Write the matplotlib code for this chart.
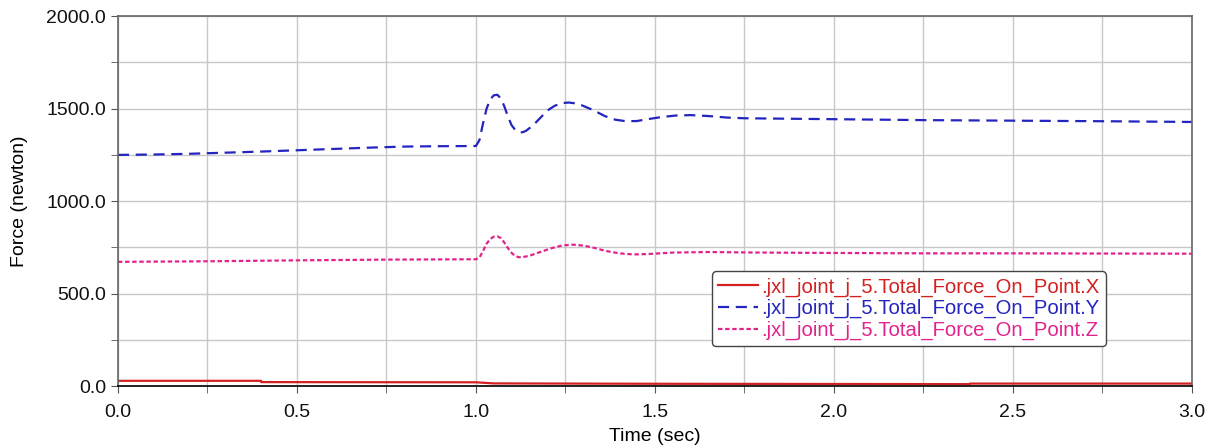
import matplotlib
matplotlib.use("Agg")
import matplotlib.pyplot as plt
from matplotlib.ticker import MultipleLocator, FormatStrFormatter

plt.rcParams['font.family'] = ['Liberation Sans', 'DejaVu Sans']

# Time samples (sec) and force values (newton) for each component
t_x = [0.0, 0.40, 0.40, 1.00, 1.05, 1.50, 2.38, 2.38, 3.0]
f_x = [29, 29, 22, 21, 15, 13, 11, 14, 14]

t_y = [0.0, 0.1, 0.2, 0.3, 0.4, 0.5, 0.6, 0.7, 0.8, 0.9, 1.0,
       1.01, 1.02, 1.03, 1.04, 1.05, 1.06, 1.07, 1.08, 1.09, 1.10,
       1.11, 1.12, 1.13, 1.14, 1.16, 1.18, 1.20, 1.22, 1.24, 1.26,
       1.28, 1.30, 1.33, 1.36, 1.39, 1.42, 1.45, 1.48, 1.52, 1.56,
       1.60, 1.65, 1.70, 1.75, 1.80, 2.0, 2.25, 2.5, 2.75, 3.0]
f_y = [1250, 1252, 1256, 1262, 1268, 1275, 1282, 1289, 1295, 1297, 1298,
       1330, 1420, 1500, 1550, 1572, 1575, 1555, 1510, 1455, 1410,
       1385, 1373, 1372, 1380, 1410, 1450, 1490, 1515, 1530, 1533,
       1528, 1515, 1490, 1460, 1440, 1432, 1433, 1443, 1455, 1463,
       1465, 1460, 1452, 1448, 1447, 1443, 1438, 1435, 1432, 1428]

t_z = [0.0, 0.25, 0.5, 0.75, 1.0, 1.01, 1.02, 1.03, 1.04, 1.05, 1.06,
       1.07, 1.08, 1.09, 1.10, 1.11, 1.12, 1.13, 1.15, 1.18, 1.21,
       1.24, 1.27, 1.30, 1.33, 1.36, 1.40, 1.44, 1.48, 1.55, 1.65,
       1.80, 2.0, 2.25, 2.5, 3.0]
f_z = [672, 675, 680, 684, 686, 695, 730, 770, 795, 808, 810,
       800, 775, 745, 720, 703, 697, 697, 705, 725, 745,
       760, 765, 760, 748, 732, 718, 712, 714, 722, 725,
       722, 720, 718, 718, 716]

labels = [".jxl_joint_j_5.Total_Force_On_Point.X",
          ".jxl_joint_j_5.Total_Force_On_Point.Y",
          ".jxl_joint_j_5.Total_Force_On_Point.Z"]
colors = ["#d42020", "#2424c0", "#e0248c"]

fig = plt.figure(figsize=(12.16, 4.48), dpi=100)
ax = fig.add_axes([0.097, 0.138, 0.883, 0.826])

ax.plot(t_x, f_x, color=colors[0], lw=1.6, label=labels[0])
ax.plot(t_y, f_y, color=colors[1], lw=1.6, ls=(0, (5, 3)), label=labels[1])
ax.plot(t_z, f_z, color=colors[2], lw=1.6, ls=(0, (2, 1.2)), label=labels[2])

ax.set_xlim(0, 3.0)
ax.set_ylim(0, 2000)
ax.xaxis.set_major_locator(MultipleLocator(0.5))
ax.xaxis.set_minor_locator(MultipleLocator(0.25))
ax.yaxis.set_major_locator(MultipleLocator(500))
ax.yaxis.set_minor_locator(MultipleLocator(250))
ax.xaxis.set_major_formatter(FormatStrFormatter('%.1f'))
ax.yaxis.set_major_formatter(FormatStrFormatter('%.1f'))

ax.grid(True, which='both', color='#c8c8c8', lw=1.0)
ax.set_axisbelow(True)
ax.tick_params(which='both', direction='out', length=5, color='#555555',
               labelsize=14, labelcolor='#111111')
ax.tick_params(axis='x', pad=8)

for side in ['top', 'right', 'left']:
    ax.spines[side].set_color('#666666')
    ax.spines[side].set_linewidth(1.2)
ax.spines['bottom'].set_color('#111111')
ax.spines['bottom'].set_linewidth(1.3)

ax.set_xlabel("Time (sec)", fontsize=14, labelpad=5)
ax.set_ylabel("Force (newton)", fontsize=14, labelpad=13)

leg = ax.legend(loc='upper left', bbox_to_anchor=(0.553, 0.31),
                fontsize=14.6, handlelength=2.0, handletextpad=0.15,
                labelspacing=0.12, borderpad=0.3, borderaxespad=0.0,
                frameon=True, fancybox=True,
                framealpha=1.0, edgecolor='#444444')
leg.get_frame().set_linewidth(1.0)
for txt, c in zip(leg.get_texts(), colors):
    txt.set_color(c)

fig.savefig("out.png", dpi=100, facecolor='white')
